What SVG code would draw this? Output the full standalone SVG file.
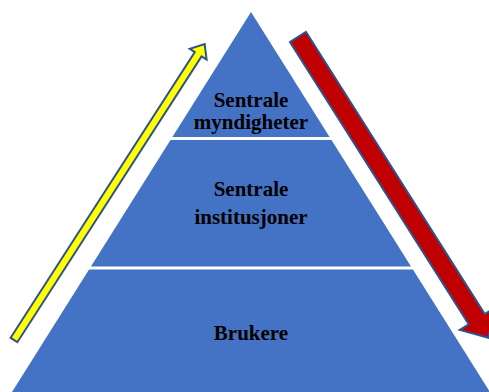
<svg xmlns="http://www.w3.org/2000/svg" width="489" height="392" viewBox="0 0 489 392">
<style>
.lvl{fill:#4472C4}
.sep{stroke:#FFFFFF;stroke-width:3}
.t{font-family:"Liberation Serif","Times New Roman",serif;font-weight:bold;font-size:21px;fill:#000;text-anchor:middle}
.arr{stroke:#2F528F;stroke-width:2;stroke-linejoin:miter}
</style>
<rect width="489" height="392" fill="#FFFFFF"/>
<g id="pyramid">
<polygon class="lvl" points="251,12 490,392 12,392"/>
</g>
<g id="separators">
<line class="sep" x1="150" y1="138.5" x2="352" y2="138.5"/>
<line class="sep" x1="70" y1="268" x2="430" y2="268"/>
</g>
<g id="level1">
<text class="t" x="251" y="107">Sentrale</text>
<text class="t" x="251" y="129">myndigheter</text>
</g>
<g id="level2">
<text class="t" x="251" y="196">Sentrale</text>
<text class="t" x="251" y="224">institusjoner</text>
</g>
<g id="level3">
<text class="t" x="251" y="340">Brukere</text>
</g>
<g id="connectors">
<g id="arrow-up" transform="translate(14,340) rotate(-57.2)">
<polygon class="arr" fill="#FFFF00" points="0,-4 340,-4 340,-10 352,0 340,10 340,4 0,4"/>
</g>
<g id="arrow-down" transform="translate(298,37) rotate(57.65)">
<polygon class="arr" fill="#C00000" points="0,-9.5 334,-9.5 334,-20 356,0 334,20 334,9.5 0,9.5"/>
</g>
</g>
</svg>
